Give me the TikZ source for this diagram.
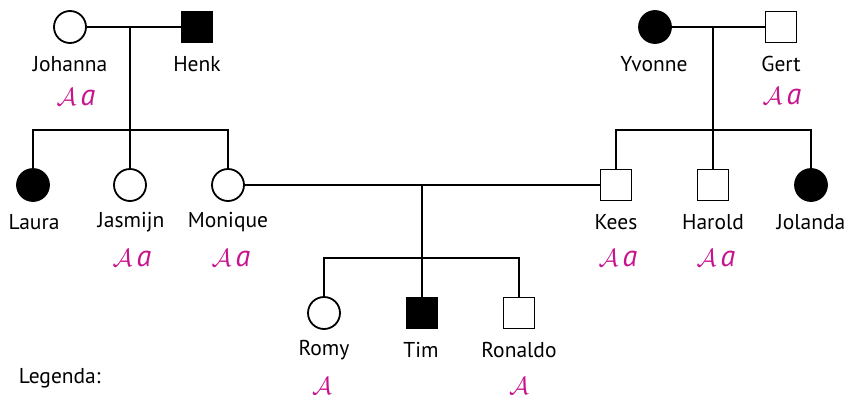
\documentclass[tikz,border=0pt]{standalone}
\usepackage{fontspec}
\setmainfont{PT Sans}
\definecolor{geno}{RGB}{200,20,140}
\newcommand{\gAa}{$\mathcal{A}\,\mathit{a}$}
\begin{document}
\begin{tikzpicture}[x=1pt,y=-1pt,line width=1.8pt,
  femalenode/.style={circle,draw,minimum size=32pt,inner sep=0pt},
  malenode/.style={rectangle,draw,minimum size=31pt,inner sep=0pt},
  affected/.style={fill=black},
  lbl/.style={font=\fontsize{21.5}{21.5}\selectfont,inner sep=0pt},
  gt/.style={text=geno,font=\fontsize{30}{30}\selectfont,inner sep=0pt}]
\useasboundingbox (0,0) rectangle (848,394);
% generation 1
\node[femalenode] (johanna) at (70,27) {};
\node[malenode,affected] (henk) at (197,27) {};
\node[femalenode,affected] (yvonne) at (655,27) {};
\node[malenode] (gert) at (781,27) {};
\node[lbl] (lj) at (70,64) {Johanna};
\node[lbl] (lh) at (197,64) {Henk};
\node[lbl] (ly) at (654,64) {Yvonne};
\node[lbl] (lg) at (781,64) {Gert};
\node[gt] (gj) at (76,97) {\gAa};
\node[gt] (gg) at (782,96) {\gAa};
% generation 2
\node[femalenode,affected] (laura) at (33,185) {};
\node[femalenode] (jasmijn) at (130,185) {};
\node[femalenode] (monique) at (228,185) {};
\node[malenode] (kees) at (616,185) {};
\node[malenode] (harold) at (713,185) {};
\node[femalenode,affected] (jolanda) at (811,185) {};
\node[lbl] (ll) at (34,222) {Laura};
\node[lbl] (ljs) at (131,222) {Jasmijn};
\node[lbl] (lm) at (228,222) {Monique};
\node[lbl] (lk) at (616,222) {Kees};
\node[lbl] (lha) at (713,222) {Harold};
\node[lbl] (ljo) at (811,222) {Jolanda};
\node[gt] (gjs) at (132,258) {\gAa};
\node[gt] (gm) at (231,258) {\gAa};
\node[gt] (gk) at (618,258) {\gAa};
\node[gt] (gha) at (716,258) {\gAa};
% generation 3
\node[femalenode] (romy) at (324,313) {};
\node[malenode,affected] (tim) at (422,313) {};
\node[malenode] (ronaldo) at (519,313) {};
\node[lbl] (lr) at (324,350) {Romy};
\node[lbl] (lt) at (421,350) {Tim};
\node[lbl] (lro) at (519,350) {Ronaldo};
\node[gt] (gr) at (322,386) {$\mathcal{A}$};
\node[gt] (gro) at (519,386) {$\mathcal{A}$};
\node[lbl,anchor=west] (leg) at (18,378) {Legenda:};
% connectors
\coordinate (m1) at (130,27);
\coordinate (s1) at (130,130);
\coordinate (m2) at (713,27);
\coordinate (s2) at (713,130);
\coordinate (m3) at (422,185);
\coordinate (s3) at (422,258);
\draw (johanna) -- (henk);
\draw (m1) -- (s1);
\draw (laura.north) |- (s1) -| (monique.north);
\draw (s1) -- (jasmijn.north);
\draw (yvonne) -- (gert);
\draw (m2) -- (s2);
\draw (kees.north) |- (s2) -| (jolanda.north);
\draw (s2) -- (harold.north);
\draw (monique) -- (kees);
\draw (m3) -- (s3);
\draw (romy.north) |- (s3) -| (ronaldo.north);
\draw (s3) -- (tim.north);
\end{tikzpicture}
\end{document}
